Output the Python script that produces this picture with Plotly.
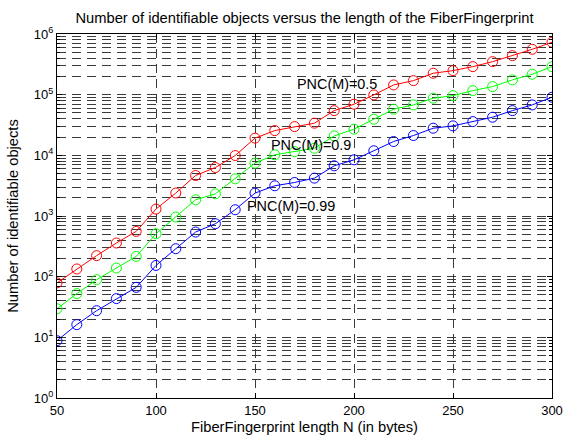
import math
import plotly.graph_objects as go

# ---- data ----
N = [50, 60, 70, 80, 90, 100, 110, 120, 130, 140, 150, 160, 170,
     180, 190, 200, 210, 220, 230, 240, 250, 260, 270, 280, 290, 300]

pnc_05 = [79, 134, 222, 359, 557, 1300, 2390, 4650, 6300, 9930, 19200, 25600,
          29800, 33900, 54600, 69600, 99100, 144600, 170300, 225600, 249000,
          289700, 349800, 439700, 560000, 730000]
pnc_09 = [29.6, 52.5, 89, 139, 216, 510, 961, 1850, 2320, 4100, 7430, 10200,
          11500, 13100, 20900, 27000, 39400, 57600, 67800, 87400, 96400,
          116700, 135800, 175000, 217000, 289700]
pnc_099 = [8.8, 16.2, 27.5, 43.5, 66.6, 153, 289, 544, 746, 1268, 2388, 3150,
           3570, 4210, 6720, 8430, 11900, 16900, 21200, 28000, 30600, 36000,
           42500, 54600, 67800, 90800]

series_names = ["PNC(M)=0.5", "PNC(M)=0.9", "PNC(M)=0.99"]
x_ticks = [50, 100, 150, 200, 250, 300]
y_exponents = [0, 1, 2, 3, 4, 5, 6]

FONT = "Liberation Sans, Arial, Helvetica, sans-serif"

fig = go.Figure()
for vals, col, name in zip([pnc_05, pnc_09, pnc_099],
                           ["#ff0000", "#00ff00", "#0000ff"], series_names):
    fig.add_trace(go.Scatter(
        x=N, y=vals, mode="lines+markers", name=name,
        line=dict(color=col, width=1),
        marker=dict(symbol="circle-open", size=10, color=col,
                    line=dict(color=col, width=1)),
    ))

# text labels next to curves
label_pos = [(170, 1.5e5), (157, 1.5e4), (145, 1.45e3)]
for name, (lx, ly) in zip(series_names, label_pos):
    fig.add_annotation(x=lx, y=math.log10(ly), text=name, showarrow=False,
                       xanchor="left", yanchor="middle",
                       font=dict(family=FONT, size=14.4, color="black"))

minor_vals = [m * 10 ** e for e in range(0, 6) for m in range(2, 10)]
grid_dash = "9px,6px"
grid_col = "#3a3a3a"

W, H = 564, 435
fig.update_layout(
    width=W, height=H,
    margin=dict(l=57, r=12, t=34, b=36.5, pad=0),
    paper_bgcolor="white", plot_bgcolor="white",
    showlegend=False,
    font=dict(family=FONT, size=13, color="black"),
    title=dict(text="Number of identifiable objects versus the length of the FiberFingerprint",
               x=0.5, xref="paper", xanchor="center",
               y=1 - 18 / H, yref="container", yanchor="middle",
               font=dict(family=FONT, size=14.7, color="black")),
    xaxis=dict(
        range=[50, 300], tickvals=x_ticks, ticktext=[str(v) for v in x_ticks],
        ticks="inside", ticklen=5, tickcolor="black", tickwidth=1,
        showline=True, linecolor="black", linewidth=1, mirror="ticks",
        showgrid=True, gridcolor=grid_col, griddash=grid_dash, gridwidth=1,
        zeroline=False, tickfont=dict(size=13),
        title=dict(text="FiberFingerprint length N (in bytes)",
                   font=dict(size=14.7), standoff=6),
        automargin=False,
    ),
    yaxis=dict(
        type="log", range=[0, 6],
        tickvals=[10 ** e for e in y_exponents],
        ticktext=["10<sup>%d</sup>" % e for e in y_exponents],
        ticks="inside", ticklen=5, tickcolor="black", tickwidth=1,
        showline=True, linecolor="black", linewidth=1, mirror="ticks",
        showgrid=True, gridcolor=grid_col, griddash=grid_dash, gridwidth=1,
        zeroline=False, tickfont=dict(size=13),
        minor=dict(tickvals=minor_vals, ticks="inside", ticklen=3,
                   tickcolor="black", showgrid=True, gridcolor=grid_col,
                   griddash=grid_dash, gridwidth=1),
        title=dict(text="Number of identifiable objects",
                   font=dict(size=14.7), standoff=11),
        automargin=False,
    ),
)

# remove the browser's default 8px body margin so the figure fills the window
fig.write_html("out.html",
               config={"displayModeBar": False, "staticPlot": True},
               post_script="document.body.style.margin='0';"
                           "document.documentElement.style.overflow='hidden';")
